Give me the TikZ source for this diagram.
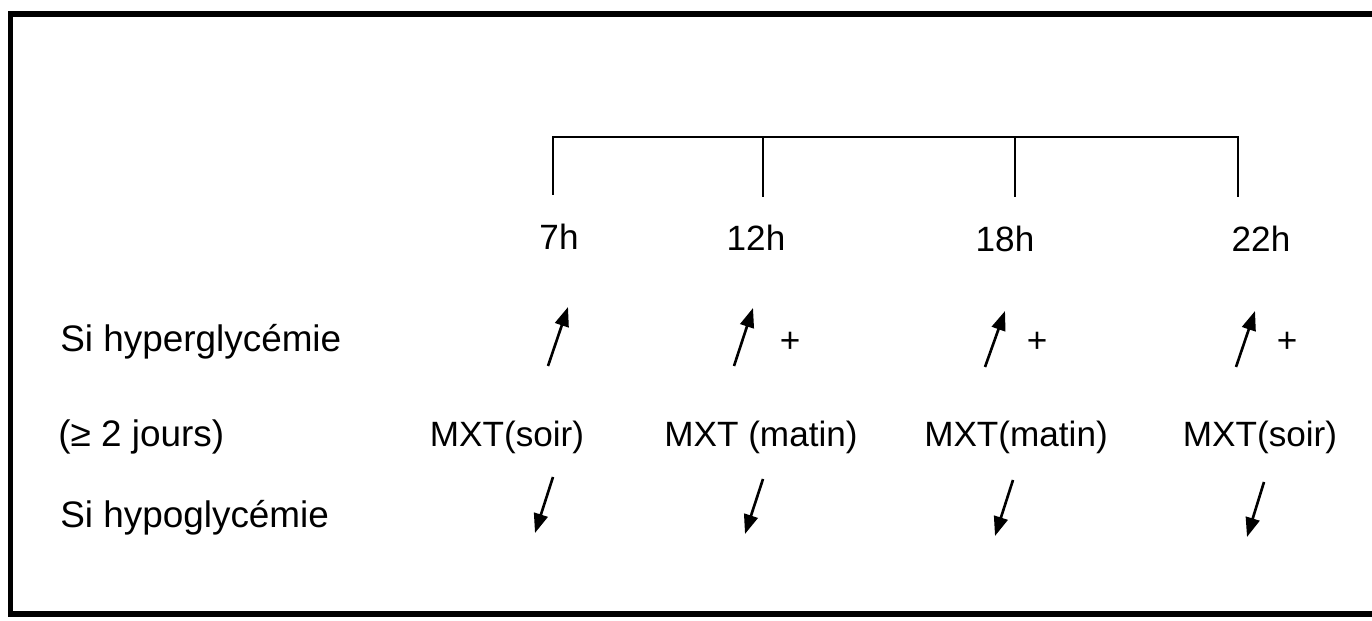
\documentclass[tikz,border=0pt]{standalone}
\usepackage{fontspec}
\setmainfont{Liberation Sans}
\usetikzlibrary{arrows.meta}
\begin{document}
\begin{tikzpicture}[x=0.02cm,y=-0.02cm,
  lbl/.style={inner sep=0pt, font=\fontsize{20pt}{24pt}\selectfont},
  rowlbl/.style={inner sep=0pt, anchor=base west, font=\fontsize{21pt}{25pt}\selectfont},
  frameline/.style={line width=3.4pt},
  tickline/.style={line width=1.1pt},
  dirarrow/.style={line width=1.5pt, -{Triangle[length=11pt,width=8pt]}}]
\useasboundingbox (0,0) rectangle (1372,621);

% open frame (right side runs off the page)
\coordinate (ftr) at (1400,14);
\coordinate (ftl) at (10.5,14);
\coordinate (fbl) at (10.5,614);
\coordinate (fbr) at (1400,614);
\draw[frameline] (ftr) -- (ftl) -- (fbl) -- (fbr);

% time bracket
\coordinate (k7t) at (553,137);   \coordinate (k7b) at (553,195);
\coordinate (k12t) at (763,137);  \coordinate (k12b) at (763,197);
\coordinate (k18t) at (1015,137); \coordinate (k18b) at (1015,197);
\coordinate (k22t) at (1238,137); \coordinate (k22b) at (1238,197);
\draw[tickline] (k7b) -- (k7t) -- (k22t) -- (k22b);
\draw[tickline] (k12t) -- (k12b);
\draw[tickline] (k18t) -- (k18b);

% hours
\node[lbl, anchor=base] (t7)  at (559,250)  {7h};
\node[lbl, anchor=base] (t12) at (756,251)  {12h};
\node[lbl, anchor=base] (t18) at (1005,252) {18h};
\node[lbl, anchor=base] (t22) at (1261,252) {22h};

% row captions
\node[rowlbl] (hyper) at (60,352) {Si hyperglycémie};
\node[rowlbl] (jours) at (58,446) {(≥ 2 jours)};
\node[rowlbl] (hypo)  at (60,527) {Si hypoglycémie};

% insulin doses
\node[lbl, anchor=base] (m7)  at (507,446)  {MXT(soir)};
\node[lbl, anchor=base] (m12) at (761,446)  {MXT (matin)};
\node[lbl, anchor=base] (m18) at (1016,446) {MXT(matin)};
\node[lbl, anchor=base] (m22) at (1260,446) {MXT(soir)};

% increase arrows
\coordinate (u7a) at (548,366);   \coordinate (u7b) at (568,307);
\coordinate (u12a) at (734,366);  \coordinate (u12b) at (753,308);
\coordinate (u18a) at (985,367);  \coordinate (u18b) at (1005,311);
\coordinate (u22a) at (1236,367); \coordinate (u22b) at (1255,311);
\draw[dirarrow] (u7a) -- (u7b);
\draw[dirarrow] (u12a) -- (u12b);
\draw[dirarrow] (u18a) -- (u18b);
\draw[dirarrow] (u22a) -- (u22b);
\node[lbl] (p12) at (790,342)  {+};
\node[lbl] (p18) at (1037,342) {+};
\node[lbl] (p22) at (1287,342) {+};

% decrease arrows
\coordinate (d7a) at (553,477);   \coordinate (d7b) at (535,533);
\coordinate (d12a) at (763,479);  \coordinate (d12b) at (745,534);
\coordinate (d18a) at (1013,480); \coordinate (d18b) at (995,536);
\coordinate (d22a) at (1264,482); \coordinate (d22b) at (1247,537);
\draw[dirarrow] (d7a) -- (d7b);
\draw[dirarrow] (d12a) -- (d12b);
\draw[dirarrow] (d18a) -- (d18b);
\draw[dirarrow] (d22a) -- (d22b);
\end{tikzpicture}
\end{document}
